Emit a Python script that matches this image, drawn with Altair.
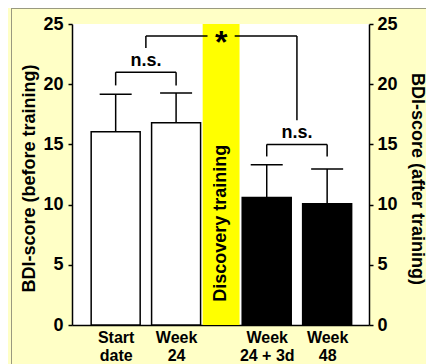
import altair as alt
import pandas as pd

# ---------------- values ----------------
categories = ["Start date", "Week 24", "Week 24 + 3d", "Week 48"]
label_lines = [["Start", "date"], ["Week", "24"], ["Week", "24 + 3d"], ["Week", "48"]]
period = ["before training", "before training", "after training", "after training"]
mean_bdi = [16.05, 16.8, 10.6, 10.07]
upper_err = [19.16, 19.27, 13.31, 12.96]

ns_pairs = [(0, 1), (2, 3)]
ns_bracket_top = [21.0, 15.0]
ns_leg_bottom = [19.9, 14.0]
ns_text = "n.s."

sig_bracket_top = 24.0
sig_leg_bottom = [23.0, 17.0]
sig_text = "*"

band_text = "Discovery training"
band_text_y = 8.45
y_ticks = [0, 5, 10, 15, 20, 25]

# ---------------- layout (placement on the x scale) ----------------
slot = [1.0, 2.0, 3.5, 4.5]
band_x = (2.44, 3.05)
x_domain = [0.36, 5.11]
star_gap = 0.225

FONT = "Liberation Sans"
BG = "#FFFFC6"
BORDER = "#9A9A80"

# ---------------- tables ----------------
bars = pd.DataFrame({"cat": categories, "s": slot, "mean": mean_bdi,
                     "err": upper_err, "period": period})

seg = []
ns_lab = []
mids = []
for (a, b), top, low in zip(ns_pairs, ns_bracket_top, ns_leg_bottom):
    sa, sb = slot[a], slot[b]
    seg.append({"x": sa, "x2": sa, "y": low, "y2": top})
    seg.append({"x": sb, "x2": sb, "y": low, "y2": top})
    seg.append({"x": sa, "x2": sb, "y": top, "y2": top})
    m = (sa + sb) / 2
    mids.append(m)
    ns_lab.append({"x": m, "y": top, "t": ns_text})
band_mid = (band_x[0] + band_x[1]) / 2
for m, low in zip(mids, sig_leg_bottom):
    seg.append({"x": m, "x2": m, "y": low, "y2": sig_bracket_top})
seg.append({"x": mids[0], "x2": band_mid - star_gap, "y": sig_bracket_top, "y2": sig_bracket_top})
seg.append({"x": band_mid + star_gap, "x2": mids[1], "y": sig_bracket_top, "y2": sig_bracket_top})
segs = pd.DataFrame(seg)
ns_df = pd.DataFrame(ns_lab)
star_df = pd.DataFrame([{"x": band_mid, "y": sig_bracket_top, "t": sig_text}])
band_df = pd.DataFrame([{"x0": band_x[0], "x1": band_x[1], "y0": y_ticks[0], "y1": y_ticks[-1],
                         "xm": band_mid, "ym": band_text_y, "t": band_text}])
one = pd.DataFrame({"a": [0]})

# ---------------- scales / axes ----------------
xscale = alt.Scale(domain=x_domain, nice=False, zero=False)
yscale = alt.Scale(domain=[y_ticks[0], y_ticks[-1]], nice=False, zero=False)

expr = "''"
for s, lines in reversed(list(zip(slot, label_lines))):
    arr = "[" + ",".join("'" + l + "'" for l in lines) + "]"
    expr = f"abs(datum.value - {s}) < 0.01 ? {arr} : ({expr})"

x_axis = alt.Axis(values=slot, labelExpr=expr, title=None, ticks=False, tickSize=0,
                  labelPadding=4, labelBaseline="top", labelAlign="center",
                  labelFontSize=16, labelLineHeight=18, labelOverlap=False,
                  labelFlush=False, grid=False)
left_axis = alt.Axis(orient="left", values=y_ticks, title="BDI-score (before training)",
                     tickSize=4, labelPadding=5, grid=False,
                     titleAngle=270, titleX=-43, titleY=154, titleAlign="center",
                     titleBaseline="middle")
right_axis = alt.Axis(orient="right", values=y_ticks, title="BDI-score (after training)",
                      tickSize=4, labelPadding=4, grid=False,
                      titleAngle=90, titleX=47, titleY=154.5, titleAlign="center",
                      titleBaseline="middle")


def X(f):
    return alt.X(f, type="quantitative", scale=xscale, axis=x_axis)


def Y(f, axis=None):
    return alt.Y(f, type="quantitative", scale=yscale, axis=axis)


frame_left = alt.Chart(one).mark_rule(color=BORDER, strokeWidth=1).encode(
    x=alt.value(-60.5), y=alt.value(-16), y2=alt.value(345))
frame_top = alt.Chart(one).mark_rule(color=BORDER, strokeWidth=1).encode(
    x=alt.value(-61), x2=alt.value(360), y=alt.value(-15.5))

band = alt.Chart(band_df).mark_rect(color="#FFFF00").encode(
    x=X("x0"), x2="x1", y=Y("y0"), y2="y1")

bar_layer = alt.Chart(bars).mark_bar(orient="vertical", size=49, stroke="black",
                                     strokeWidth=1.5).encode(
    x=X("s"), y=Y("mean", left_axis),
    fill=alt.Fill("period:N", scale=alt.Scale(domain=["before training", "after training"],
                                              range=["white", "black"]), legend=None))

err_rule = alt.Chart(bars).mark_rule(color="black", strokeWidth=1.5).encode(
    x=X("s"), y=Y("mean"), y2="err")
err_cap = alt.Chart(bars).mark_tick(orient="horizontal", size=32, thickness=1.5,
                                    color="black", opacity=1).encode(
    x=X("s"), y=Y("err", right_axis))

brackets = alt.Chart(segs).mark_rule(color="black", strokeWidth=1.5).encode(
    x=X("x"), x2="x2", y=Y("y"), y2="y2")
ns_layer = alt.Chart(ns_df).mark_text(font=FONT, fontSize=18, fontWeight="bold",
                                      baseline="alphabetic", dy=-6, color="black").encode(
    x=X("x"), y=Y("y"), text="t:N")
star_layer = alt.Chart(star_df).mark_text(font=FONT, fontSize=32, fontWeight="bold",
                                          baseline="middle", dy=7, color="black").encode(
    x=X("x"), y=Y("y"), text="t:N")
band_label = alt.Chart(band_df).mark_text(font=FONT, fontSize=18, fontWeight="bold",
                                          angle=270, align="center", baseline="middle",
                                          color="black").encode(
    x=X("xm"), y=Y("ym"), text="t:N")

chart = alt.layer(frame_left, frame_top, band, bar_layer, err_rule, err_cap, brackets,
                  ns_layer, star_layer, band_label).resolve_axis(y="independent").properties(
    width=297, height=301,
    autosize=alt.AutoSizeParams(type="none"),
    padding={"left": 64, "top": 16, "right": 57, "bottom": 39},
    background=BG,
).configure_view(fill="white", stroke=None).configure_axis(
    labelFont=FONT, labelFontSize=18, labelFontWeight="bold", labelColor="black",
    titleFont=FONT, titleFontSize=18, titleFontWeight="bold", titleColor="black",
    domainColor="black", domainWidth=1.5, tickColor="black", tickWidth=1.5,
)

chart.save("out.html", embed_options={"renderer": "svg", "actions": False})
